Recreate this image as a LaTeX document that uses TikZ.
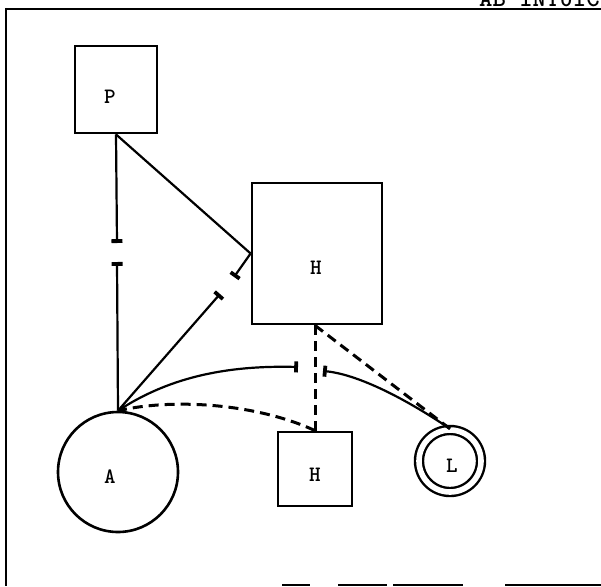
\documentclass[tikz,border=0pt]{standalone}
\usepackage{fontspec}
\usetikzlibrary{arrows.meta}
\begin{document}
\begin{tikzpicture}[x=1pt,y=-1pt,
  box/.style={draw, line width=2.8pt, rectangle, inner sep=0pt},
  lbl/.style={font=\ttfamily\bfseries\fontsize{22}{22}\selectfont, inner sep=0pt},
  conn/.style={line width=2.2pt},
  dconn/.style={line width=3pt, dash pattern=on 10pt off 6pt},
  barend/.style={-{Bar[width=11pt,line width=3.8pt]}},
  barstart/.style={{Bar[width=11pt,line width=3.8pt]}-},
  frameline/.style={line width=2.8pt}
]
\useasboundingbox (0,0) rectangle (601,586);
\clip (0,0) rectangle (601,586);
% frame
\coordinate (ftl) at (5,9);
\coordinate (ftr) at (601,9);
\coordinate (fbl) at (6,586);
\draw[frameline] (ftl) -- (ftr);
\draw[frameline] (6,8) -- (fbl);
\draw[line width=2.2pt] (282,585) -- (310,585) (338,585) -- (387,585) (393,585) -- (463,585) (505,585) -- (601,585);
\node[anchor=base west, font=\ttfamily\bfseries\fontsize{25.5}{25.5}\selectfont, inner sep=0pt] (title) at (479,7) {AB INTUIC};
% nodes
\node[box, minimum width=82pt, minimum height=87pt] (P) at (116,89.5) {};
\node[lbl] (Pl) at (110,97) {P};
\node[box, minimum width=130pt, minimum height=141pt] (H1) at (317,253.5) {};
\node[lbl] (H1l) at (316,268) {H};
\node[box, minimum width=74pt, minimum height=74pt] (H2) at (315,469) {};
\node[lbl] (H2l) at (315,475) {H};
\node[draw, circle, line width=2.6pt, minimum size=120pt, inner sep=0pt] (A) at (118,472) {};
\node[lbl] (Al) at (110,477) {A};
\node[draw, circle, line width=2.4pt, double, double distance=5.6pt, minimum size=62pt, inner sep=0pt] (L) at (450,461) {};
\node[lbl] (Ll) at (452,466) {L};
% gap coordinates
\coordinate (g1) at (117,243);
\coordinate (g2) at (117,262);
\coordinate (g3) at (234,277);
\coordinate (g4) at (220,294);
\coordinate (c1) at (298,367);
\coordinate (c2) at (323,371);
\coordinate (hb) at (H2.north |- H1.south);
% solid connectors
\draw[conn, barend] (P.south) -- (g1);
\draw[conn, barstart] (g2) -- (A.north);
\draw[conn] (P.south) -- (H1.west);
\draw[conn, barend] (H1.west) -- (g3);
\draw[conn, barstart] (g4) -- (A.north);
\draw[conn, barend] (A.north) .. controls (165,380) and (220,365) .. (c1);
\draw[conn, barend] (L.north) .. controls (400,395) and (355,374) .. (c2);
% dashed connectors
\draw[dconn] (hb) -- (H2.north);
\draw[dconn] (hb) -- (L.north);
\draw[dconn, -{Stealth[length=9pt,width=7pt]}] (H2.north) .. controls (260,405) and (180,398) .. (A.north);
\end{tikzpicture}
\end{document}
